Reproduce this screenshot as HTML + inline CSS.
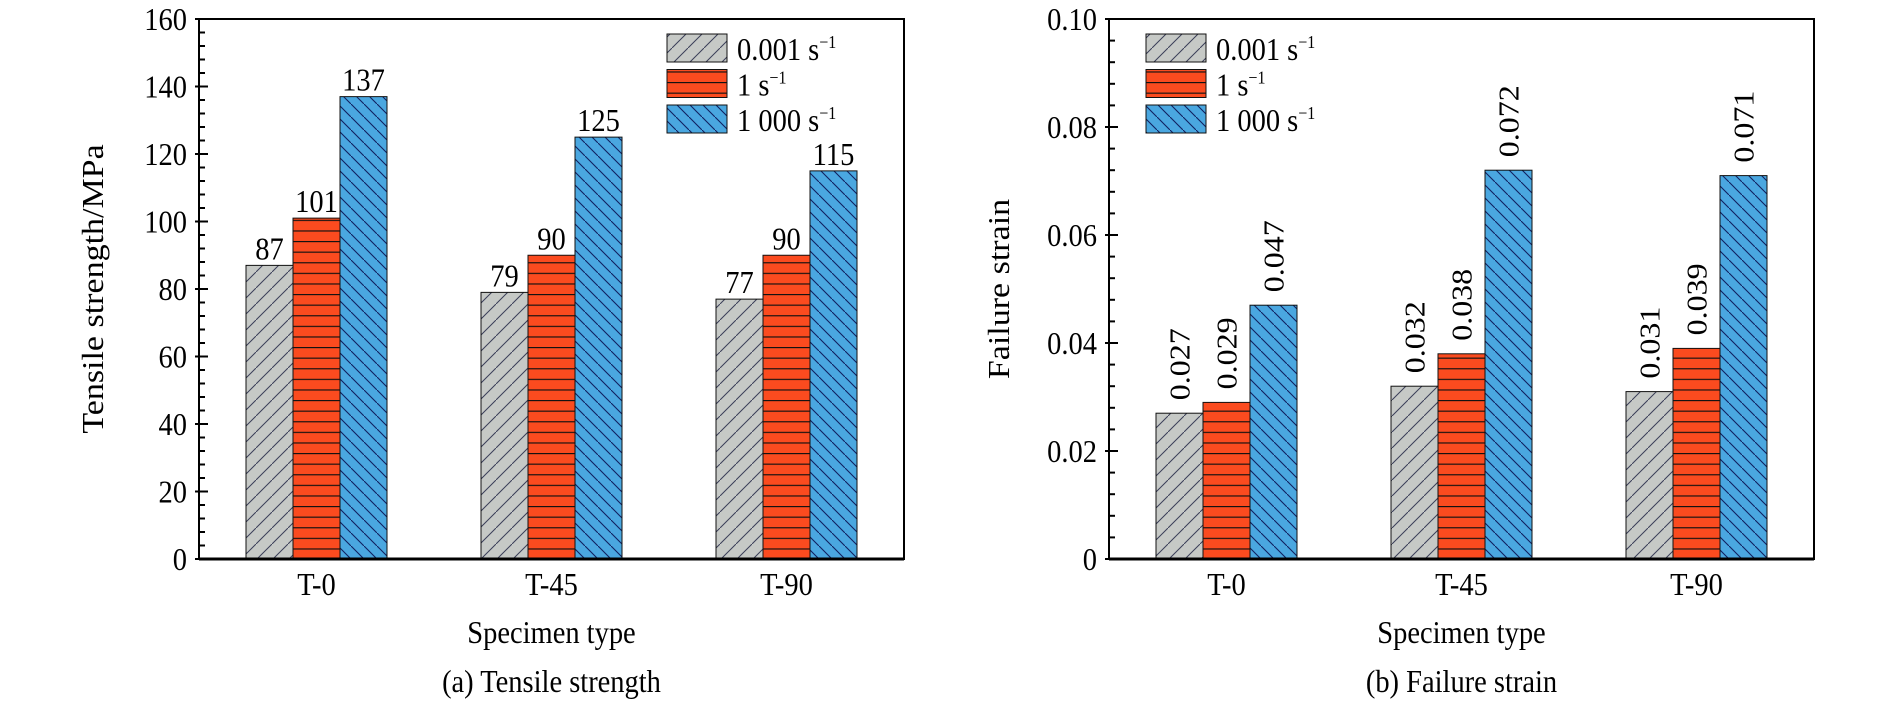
<!DOCTYPE html>
<html><head><meta charset="utf-8">
<style>
html,body{margin:0;padding:0;background:#fff;}
svg{display:block;font-family:"Liberation Serif",serif;}
</style></head>
<body>
<svg id="chart" width="1890" height="705" viewBox="0 0 1890 705" xmlns="http://www.w3.org/2000/svg">
<defs>
<pattern id="pGray" patternUnits="userSpaceOnUse" width="16" height="16">
<rect width="16" height="16" fill="#c6c9c6"/>
<path d="M-4,20 L20,-4" stroke="#3a3f58" stroke-width="1"/>
</pattern>
<pattern id="pRed" patternUnits="userSpaceOnUse" width="10" height="10.6" y="559">
<rect width="10" height="10.6" fill="#fb4b1f"/>
<line x1="0" y1="0.5" x2="10" y2="0.5" stroke="#111" stroke-width="1.3"/>
</pattern>
<pattern id="pBlue" patternUnits="userSpaceOnUse" width="13" height="13">
<rect width="13" height="13" fill="#4aa7e0"/>
<path d="M-3,-3 L16,16" stroke="#102060" stroke-width="1.1"/>
</pattern>
</defs>
<g id="root"></g>
</svg>
<script>
const categories = ["T-0", "T-45", "T-90"];
const seriesNames = ["0.001 s", "1 s", "1 000 s"];
const strengthSlow = [87, 79, 77];
const strengthMid = [101, 90, 90];
const strengthFast = [137, 125, 115];
const strainSlow = [0.027, 0.032, 0.031];
const strainMid = [0.029, 0.038, 0.039];
const strainFast = [0.047, 0.072, 0.071];
const strengthTicks = [0, 20, 40, 60, 80, 100, 120, 140, 160];
const strengthTickLabels = ["0","20","40","60","80","100","120","140","160"];
const strainTicks = [0, 0.02, 0.04, 0.06, 0.08, 0.10];
const strainTickLabels = ["0","0.02","0.04","0.06","0.08","0.10"];
const strainValueLabels = [["0.027","0.032","0.031"],["0.029","0.038","0.039"],["0.047","0.072","0.071"]];

const NS = "http://www.w3.org/2000/svg";
const root = document.getElementById('root');
const FS = 32;
const SX = 0.89;
function mk(tag, attrs, parent, text){
  const e = document.createElementNS(NS, tag);
  for (const k in attrs) e.setAttribute(k, attrs[k]);
  if (text !== undefined) e.textContent = text;
  (parent||root).appendChild(e);
  return e;
}
function txt(x, y, str, size, anchor, parent, rot){
  const tr = 'translate(' + x + ' ' + y + ')' + (rot ? ' rotate(-90) scale(1 ' + SX + ')' : ' scale(' + SX + ' 1)');
  return mk('text', {x: 0, y: 0, 'font-size': size, 'text-anchor': anchor, transform: tr}, parent, str);
}
const fills = ["url(#pGray)","url(#pRed)","url(#pBlue)"];

function drawPanel(cfg){
  const g = mk('g', {});
  
  
  const L = cfg.x0, R = cfg.x1, T = 19, B = 559;
  const yScale = v => B - (v - 0) / cfg.max * (B - T);
  const band = (R - L) / categories.length;
  const xCenter = i => L + band * (i + 0.5);
  const bw = 47;
  cfg.series.forEach((vals, s) => {
    vals.forEach((v, i) => {
      const x = xCenter(i) + (s - 1.5) * bw;
      const y = yScale(v);
      const r = mk('rect', {x: x, y: y, width: bw, height: B - y, fill: fills[s], stroke: '#111', 'stroke-width': 1}, g);
      
      
      let t;
      if (cfg.rotated) {
        t = txt(x + bw/2 + 10, y - 13, cfg.labels[s][i], FS, 'start', g, true);
      } else {
        t = txt(x + bw/2, y - 6, String(v), FS, 'middle', g, false);
      }
      
      
    });
  });
  const fr = mk('rect', {x: L, y: T, width: R - L, height: B - T, fill: 'none', stroke: '#000', 'stroke-width': 2}, g);
  
  
  mk('line', {x1: L, y1: B, x2: R, y2: B, stroke: '#000', 'stroke-width': 3}, g);
  const step = cfg.ticks[1] - cfg.ticks[0];
  for (let k = 0; k < cfg.ticks.length - 1; k++) {
    for (let m = 1; m < 5; m++) {
      const yy = yScale(cfg.ticks[k] + step * m / 5);
      mk('line', {x1: L, y1: yy, x2: L + 6, y2: yy, stroke: '#000', 'stroke-width': 2}, g);
    }
  }
  cfg.ticks.forEach((v, k) => {
    const yy = yScale(v);
    mk('line', {x1: L - 4, y1: yy, x2: L + 9, y2: yy, stroke: '#000', 'stroke-width': 2}, g);
    const t = txt(L - 12, yy + 11, cfg.tickLabels[k], FS, 'end', g, false);
    
    
  });
  categories.forEach((c, i) => {
    const t = txt(xCenter(i), 595, c, FS, 'middle', g, false);
    
    
  });
  const xt = txt((L + R) / 2, 643, 'Specimen type', FS, 'middle', g, false);
  
  
  const cap = txt((L + R) / 2, 692, cfg.caption, FS, 'middle', g, false);
  
  
  const yt = txt(cfg.ytX, 289, cfg.ytitle, 34, 'middle', g, true);
  
  
  seriesNames.forEach((n, s) => {
    const ly = 34 + s * 35.5;
    const lg = mk('g', {}, g);
    
    
    mk('rect', {x: cfg.legX, y: ly, width: 60, height: 28, fill: fills[s], stroke: '#111', 'stroke-width': 1}, lg);
    const t = txt(cfg.legX + 70, ly + 26, n, FS, 'start', lg, false);
    mk('tspan', {dy: -12, 'font-size': 18}, t, '\u22121');
  });
}

drawPanel({name: 'tensile-strength-panel', x0: 199, x1: 904, max: 160, ticks: strengthTicks, tickLabels: strengthTickLabels,
  series: [strengthSlow, strengthMid, strengthFast], rotated: false, caption: '(a) Tensile strength',
  ytitle: 'Tensile strength/MPa', ytX: 103, legX: 667});
drawPanel({name: 'failure-strain-panel', x0: 1109, x1: 1814, max: 0.1, ticks: strainTicks, tickLabels: strainTickLabels,
  series: [strainSlow, strainMid, strainFast], rotated: true, labels: strainValueLabels, caption: '(b) Failure strain',
  ytitle: 'Failure strain', ytX: 1009, legX: 1146});
</script>
</body></html>
